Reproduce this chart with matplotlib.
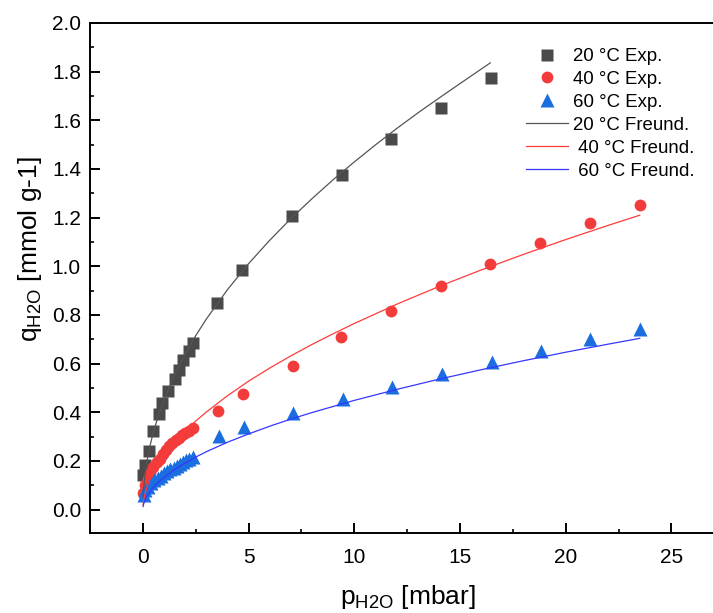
import matplotlib
matplotlib.use("Agg")
import matplotlib.pyplot as plt
from matplotlib.ticker import MultipleLocator

plt.rcParams["font.family"] = "Liberation Sans"
plt.rcParams["mathtext.fontset"] = "custom"
plt.rcParams["mathtext.rm"] = "Liberation Sans"
plt.rcParams["mathtext.it"] = "Liberation Sans:italic"

# measured isotherms, p in mbar, q in mmol/g
p_20 = [0.03, 0.11, 0.27, 0.50, 0.74, 0.90, 1.21, 1.53, 1.72, 1.92, 2.16, 2.36,
        3.53, 4.70, 7.05, 9.40, 11.75, 14.10, 16.45]
q_20 = [0.144, 0.185, 0.240, 0.322, 0.393, 0.438, 0.486, 0.537, 0.575, 0.613, 0.650, 0.685,
        0.851, 0.986, 1.207, 1.375, 1.525, 1.652, 1.774]

p_40 = [0.03, 0.12, 0.22, 0.35, 0.50, 0.65, 0.80, 0.95, 1.10, 1.25, 1.40, 1.55, 1.70, 1.85,
        2.00, 2.20, 2.35,
        3.55, 4.72, 7.08, 9.38, 11.75, 14.08, 16.43, 18.78, 21.13, 23.50]
q_40 = [0.070, 0.100, 0.125, 0.150, 0.175, 0.195, 0.210, 0.230, 0.245, 0.260, 0.275, 0.285,
        0.295, 0.305, 0.315, 0.325, 0.335,
        0.404, 0.475, 0.591, 0.708, 0.818, 0.920, 1.010, 1.097, 1.178, 1.252]

p_60 = [0.05, 0.12, 0.25, 0.40, 0.55, 0.70, 0.85, 1.00, 1.15, 1.30, 1.45, 1.60, 1.75, 1.90,
        2.05, 2.20, 2.35,
        3.58, 4.76, 7.12, 9.46, 11.78, 14.14, 16.50, 18.84, 21.13, 23.52]
q_60 = [0.060, 0.080, 0.095, 0.110, 0.120, 0.130, 0.140, 0.150, 0.158, 0.165, 0.172, 0.180,
        0.188, 0.195, 0.202, 0.210, 0.217,
        0.301, 0.338, 0.397, 0.455, 0.503, 0.558, 0.606, 0.653, 0.702, 0.743]

# Freundlich fit curves
pf_20 = [0.012, 0.03, 0.1, 0.2, 0.35, 0.5, 0.75, 1, 1.5, 2, 2.5, 3, 4, 5, 6, 7, 8, 9, 10,
         11, 12, 13, 14, 15, 16.43]
qf_20 = [0.050, 0.078, 0.143, 0.202, 0.267, 0.320, 0.391, 0.452, 0.554, 0.639, 0.715, 0.783,
         0.904, 1.011, 1.107, 1.196, 1.278, 1.356, 1.429, 1.499, 1.566, 1.630, 1.691, 1.751,
         1.836]

pf_40 = [0.012, 0.03, 0.1, 0.2, 0.35, 0.5, 0.75, 1, 1.5, 2, 2.5, 3, 4, 5, 6, 7, 8, 9, 10,
         12, 14, 16, 18, 20, 22, 23.5]
qf_40 = [0.021, 0.034, 0.065, 0.094, 0.127, 0.154, 0.191, 0.223, 0.277, 0.323, 0.364, 0.401,
         0.468, 0.528, 0.582, 0.632, 0.679, 0.723, 0.765, 0.844, 0.917, 0.985, 1.049, 1.110,
         1.168, 1.210]

pf_60 = [0.012, 0.03, 0.1, 0.2, 0.35, 0.5, 0.75, 1, 1.5, 2, 2.5, 3, 4, 5, 6, 7, 8, 9, 10,
         12, 14, 16, 18, 20, 22, 23.5]
qf_60 = [0.013, 0.021, 0.039, 0.057, 0.076, 0.092, 0.114, 0.133, 0.165, 0.192, 0.216, 0.238,
         0.277, 0.311, 0.343, 0.372, 0.399, 0.424, 0.449, 0.494, 0.536, 0.575, 0.612, 0.647,
         0.680, 0.704]

fig = plt.figure(figsize=(7.13, 6.13), dpi=100)
ax = fig.add_axes([90 / 713, 80 / 613, 636 / 713, 510 / 613])

ax.plot(p_20, q_20, "s", color="#4a4a4a", ms=8, mec="none", label="20 °C Exp.")
ax.plot(p_40, q_40, "o", color="#f23c3c", ms=8.5, mec="none", label="40 °C Exp.")
ax.plot(p_60, q_60, "^", color="#1a6ee0", ms=9.5, mec="none", label="60 °C Exp.")
ax.plot(pf_20, qf_20, "-", color="#555555", lw=0.9, label="20 °C Freund.")
ax.plot(pf_40, qf_40, "-", color="#ff3b3b", lw=0.9, label=" 40 °C Freund.")
ax.plot(pf_60, qf_60, "-", color="#3636ff", lw=0.9, label=" 60 °C Freund.")

ax.set_xlim(-2.5, 27.58)
ax.set_ylim(-0.096, 2.0)
ax.xaxis.set_major_locator(MultipleLocator(5))
ax.xaxis.set_minor_locator(MultipleLocator(2.5))
ax.yaxis.set_major_locator(MultipleLocator(0.2))
ax.yaxis.set_minor_locator(MultipleLocator(0.1))
ax.yaxis.set_major_formatter(matplotlib.ticker.FormatStrFormatter("%.1f"))
ax.tick_params(which="both", direction="in", top=False, right=False, labelsize=15)
ax.tick_params(which="major", length=7, width=1.4)
ax.tick_params(which="minor", length=3, width=1.2)
ax.tick_params(axis="y", pad=6.5)
ax.tick_params(axis="x", pad=11)
for s in ax.spines.values():
    s.set_linewidth(1.4)

ax.set_xlabel(r"p$_{\mathrm{H2O}}$ [mbar]", fontsize=19, labelpad=11)
ax.set_ylabel(r"q$_{\mathrm{H2O}}$ [mmol g-1]", fontsize=19)
ax.yaxis.set_label_coords(-0.072, 0.557)

ax.legend(loc="upper left", bbox_to_anchor=(526 / 713, (613 - 48) / 613),
          bbox_transform=fig.transFigure, frameon=False, fontsize=13.4,
          borderpad=0, borderaxespad=0, handlelength=2.24, handletextpad=0.27,
          labelspacing=0.32, numpoints=1)

fig.savefig("out.png", dpi=100)
